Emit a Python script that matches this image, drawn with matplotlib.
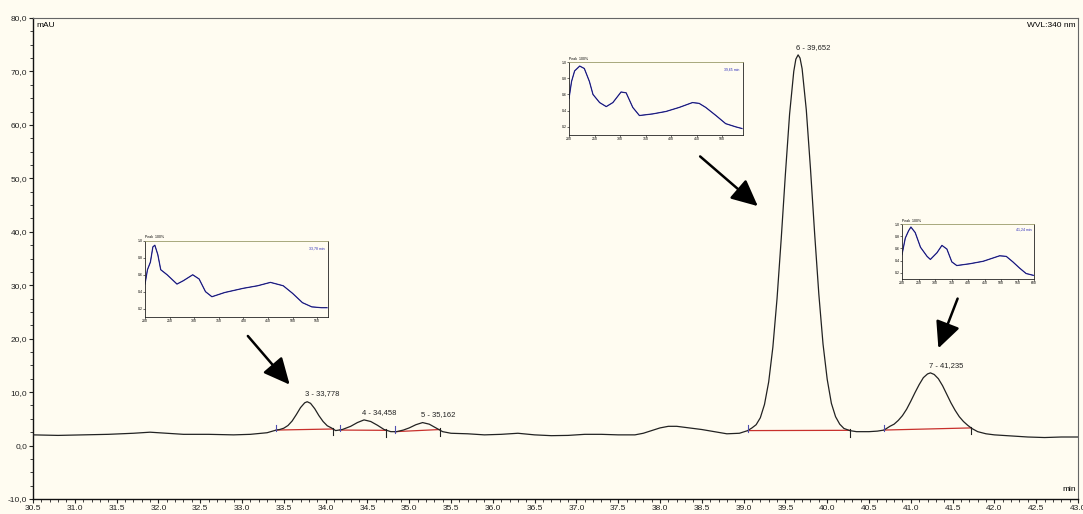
import numpy as np
import matplotlib
matplotlib.use("Agg")
import matplotlib.pyplot as plt
from matplotlib.ticker import MultipleLocator, FuncFormatter

plt.rcParams['font.family'] = ['Liberation Sans', 'DejaVu Sans']

# chromatogram trace (min, mAU)
trace_t = [30.5, 30.8, 31.1, 31.4, 31.7, 31.9, 32.1, 32.3, 32.6, 32.9, 33.1, 33.3, 33.41,
           33.45, 33.5, 33.55, 33.6, 33.65, 33.7, 33.75, 33.78, 33.82, 33.87, 33.92, 33.97,
           34.02, 34.07, 34.12, 34.2, 34.3, 34.38, 34.46, 34.54, 34.62, 34.7, 34.78, 34.85,
           34.93, 35.0, 35.08, 35.16, 35.24, 35.32, 35.4, 35.5, 35.7, 35.9, 36.1, 36.3, 36.5,
           36.7, 36.9, 37.1, 37.3, 37.5, 37.7, 37.8, 37.9, 38.0, 38.1, 38.2, 38.35, 38.5,
           38.65, 38.8, 38.95, 39.05, 39.1, 39.15, 39.2, 39.25, 39.3, 39.35, 39.4, 39.45,
           39.5, 39.55, 39.6, 39.625, 39.652, 39.675, 39.7, 39.75, 39.8, 39.85, 39.9, 39.95,
           40.0, 40.05, 40.1, 40.15, 40.2, 40.27, 40.35, 40.5, 40.6, 40.68, 40.75, 40.8,
           40.85, 40.9, 40.95, 41.0, 41.05, 41.1, 41.15, 41.2, 41.235, 41.28, 41.33, 41.38,
           41.43, 41.48, 41.53, 41.58, 41.63, 41.68, 41.73, 41.8, 41.9, 42.0, 42.2, 42.4,
           42.6, 42.8, 43.0]
trace_v = [2.0, 1.9, 2.0, 2.1, 2.3, 2.5, 2.3, 2.1, 2.1, 2.0, 2.1, 2.4, 2.9,
           3.0, 3.25, 3.75, 4.6, 5.8, 7.1, 8.0, 8.2, 7.9, 6.9, 5.6, 4.5,
           3.7, 3.3, 2.8, 3.0, 3.6, 4.3, 4.8, 4.5, 3.8, 3.0, 2.6, 2.6,
           2.9, 3.3, 3.9, 4.3, 4.0, 3.3, 2.6, 2.3, 2.2, 2.0, 2.1, 2.3, 2.0,
           1.85, 1.9, 2.1, 2.1, 2.0, 2.0, 2.3, 2.8, 3.3, 3.6, 3.6, 3.3, 3.0,
           2.6, 2.2, 2.3, 2.8, 3.3, 3.9, 5.2, 7.7, 11.9, 18.4, 27.5, 38.7,
           50.8, 62.0, 70.0, 72.3, 73.1, 72.5, 70.5, 62.8, 51.8, 39.6, 28.3, 19.0,
           12.4, 7.9, 5.4, 4.0, 3.2, 2.8, 2.6, 2.6, 2.7, 2.9, 3.6, 4.0,
           4.7, 5.6, 6.8, 8.3, 9.9, 11.4, 12.7, 13.4, 13.6, 13.3, 12.5, 11.2,
           9.6, 8.0, 6.6, 5.4, 4.5, 3.8, 3.2, 2.6, 2.2, 2.0, 1.8, 1.6,
           1.5, 1.6, 1.6]

# integration baselines (start t, start v, end t, end v)
base_t0 = [33.41, 34.17, 34.83, 39.05, 40.68]
base_v0 = [2.9, 2.9, 2.6, 2.8, 2.9]
base_t1 = [34.09, 34.72, 35.37, 40.27, 41.72]
base_v1 = [3.1, 2.85, 3.0, 2.85, 3.3]

# peak labels
peak_t = [33.778, 34.458, 35.162, 39.652, 41.235]
peak_v = [8.2, 4.8, 4.3, 73.1, 13.6]
peak_lbl = ["3 - 33,778", "4 - 34,458", "5 - 35,162", "6 - 39,652", "7 - 41,235"]

# arrows (tail -> tip) in data units
arr_tail = [(33.07, 20.5), (38.48, 54.1), (41.56, 27.5)]
arr_tip = [(33.57, 11.4), (39.17, 44.8), (41.33, 18.2)]

# UV spectra shown in the insets (nm, relative absorbance)
spec1_x = [200, 205, 211, 216, 220, 226, 232, 245, 265, 278, 297, 310, 323, 336, 362,
           400, 429, 455, 481, 500, 520, 539, 559, 570]
spec1_y = [0.49, 0.66, 0.75, 0.93, 0.95, 0.84, 0.66, 0.60, 0.49, 0.53, 0.60, 0.55, 0.40,
           0.34, 0.39, 0.44, 0.47, 0.51, 0.47, 0.38, 0.27, 0.22, 0.21, 0.21]
spec2_x = [200, 205, 211, 221, 230, 240, 247, 260, 273, 286, 302, 312, 325, 338, 364,
           390, 416, 442, 455, 468, 488, 507, 527, 539]
spec2_y = [0.55, 0.76, 0.89, 0.95, 0.92, 0.76, 0.60, 0.50, 0.45, 0.50, 0.63, 0.62, 0.44,
           0.34, 0.36, 0.39, 0.44, 0.50, 0.49, 0.44, 0.34, 0.24, 0.20, 0.18]
spec3_x = [200, 210, 220, 227, 240, 256, 276, 286, 306, 321, 336, 351, 366, 406, 446,
           496, 516, 536, 556, 576, 598]
spec3_y = [0.50, 0.77, 0.89, 0.95, 0.86, 0.62, 0.47, 0.42, 0.53, 0.65, 0.59, 0.38, 0.32,
           0.35, 0.39, 0.48, 0.47, 0.38, 0.28, 0.19, 0.16]

bg = '#fffcf1'
W, H = 1083, 514
fig = plt.figure(figsize=(W / 100, H / 100), dpi=100, facecolor=bg)


def px_box(x0, y0, x1, y1):
    return [x0 / W, 1 - y1 / H, (x1 - x0) / W, (y1 - y0) / H]


ax = fig.add_axes(px_box(33, 18, 1078, 499))
ax.set_facecolor(bg)
ax.plot(trace_t, trace_v, color='#222222', lw=0.9, zorder=3)

for t0, v0, t1, v1 in zip(base_t0, base_v0, base_t1, base_v1):
    ax.plot([t0, t1], [v0, v1], color='#c8302c', lw=0.9, zorder=2)
    ax.plot([t0, t0], [v0 - 0.2, v0 + 1.0], color='#5050b0', lw=0.8, zorder=4)
    ax.plot([t1, t1], [v1 - 1.2, v1 + 0.2], color='#222222', lw=0.8, zorder=4)

for t, v, s in zip(peak_t, peak_v, peak_lbl):
    ax.text(t - 0.02, v + 0.8, s, fontsize=5.5, ha='left', va='bottom', color='#222222')

for tail, tip in zip(arr_tail, arr_tip):
    ax.annotate('', xy=tip, xytext=tail,
                arrowprops=dict(arrowstyle='-|>,head_length=0.95,head_width=0.45',
                                mutation_scale=17, color='black', lw=1.8,
                                shrinkA=0, shrinkB=0))

ax.set_xlim(30.5, 43.0)
ax.set_ylim(-10, 80)
ax.xaxis.set_major_locator(MultipleLocator(0.5))
ax.xaxis.set_minor_locator(MultipleLocator(0.1))
ax.yaxis.set_major_locator(MultipleLocator(10))
ax.yaxis.set_minor_locator(MultipleLocator(2.5))
ax.xaxis.set_major_formatter(FuncFormatter(lambda v, p: f"{v:.1f}"))
ax.yaxis.set_major_formatter(FuncFormatter(lambda v, p: f"{v:.1f}".replace('.', ',')))
ax.tick_params(axis='both', which='major', labelsize=6, length=3, width=0.8, pad=1,
               colors='#222222')
ax.tick_params(axis='both', which='minor', length=2, width=0.6, colors='#222222')
for side in ['top', 'right']:
    ax.spines[side].set_color('#666666')
for side in ['left', 'bottom']:
    ax.spines[side].set_color('#111111')
    ax.spines[side].set_linewidth(1.0)

ax.text(0.003, 0.992, "mAU", transform=ax.transAxes, fontsize=6, ha='left', va='top')
ax.text(0.998, 0.992, "WVL:340 nm", transform=ax.transAxes, fontsize=6, ha='right', va='top')
ax.text(0.998, 0.012, "min", transform=ax.transAxes, fontsize=6, ha='right', va='bottom')

insets = [((145, 241, 328, 317), spec1_x, spec1_y, "33,78 min"),
          ((569, 62, 743, 135), spec2_x, spec2_y, "39,65 min"),
          ((902, 224, 1034, 279), spec3_x, spec3_y, "41,24 min")]
for box, sx, sy, tag in insets:
    ia = fig.add_axes(px_box(*box))
    ia.set_facecolor(bg)
    ia.plot(sx, sy, color='#3030c0', lw=0.9)
    ia.plot(sx, sy, color='#141440', lw=0.4)
    ia.set_xlim(200, max(sx) + 2)
    ia.set_ylim(0.1, 1.0)
    ia.xaxis.set_major_locator(MultipleLocator(50))
    ia.yaxis.set_major_locator(MultipleLocator(0.2))
    ia.tick_params(labelsize=2.5, length=1.2, width=0.4, pad=0.5)
    for sp in ia.spines.values():
        sp.set_linewidth(0.6)
        sp.set_color('#222222')
    ia.spines['top'].set_color('#9a9a6a')
    ia.text(0.0, 1.02, "Peak  100%", transform=ia.transAxes, fontsize=2.5, va='bottom')
    ia.text(0.98, 0.93, tag, transform=ia.transAxes, fontsize=2.5, ha='right',
            va='top', color='#2a2ab8')

fig.savefig("out.png", dpi=100, facecolor=bg)
